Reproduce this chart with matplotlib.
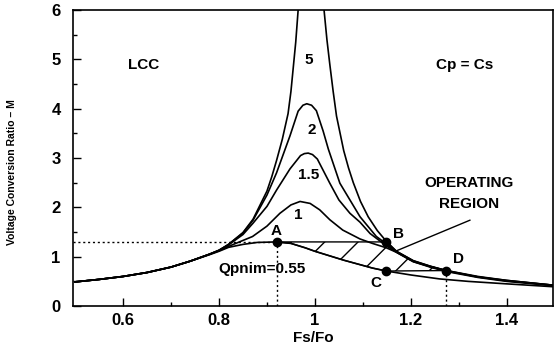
import numpy as np
import matplotlib
matplotlib.use("Agg")
import matplotlib.pyplot as plt

plt.rcParams['font.family'] = ['Liberation Sans', 'DejaVu Sans']
plt.rcParams['font.weight'] = 'bold'

# gain curves (Fs/Fo, M)
q055_x = [0.50, 0.55, 0.60, 0.65, 0.70, 0.74, 0.78, 0.80, 0.82, 0.85, 0.88, 0.92, 0.95, 0.98,
          1.00, 1.03, 1.06, 1.09, 1.12, 1.149, 1.20, 1.26, 1.32, 1.40, 1.50]
q055_m = [0.49, 0.54, 0.60, 0.68, 0.79, 0.91, 1.04, 1.11, 1.19, 1.25, 1.29, 1.30, 1.27, 1.18,
          1.11, 1.02, 0.93, 0.85, 0.77, 0.71, 0.63, 0.55, 0.50, 0.45, 0.39]

q1_x = [0.50, 0.55, 0.60, 0.65, 0.70, 0.74, 0.78, 0.80, 0.82, 0.84, 0.87, 0.90, 0.927, 0.95, 0.969,
        0.99, 1.01, 1.031, 1.058, 1.094, 1.12, 1.149, 1.17, 1.205, 1.24, 1.274, 1.34, 1.40, 1.50]
q1_m = [0.49, 0.54, 0.60, 0.68, 0.79, 0.91, 1.05, 1.12, 1.21, 1.29, 1.41, 1.62, 1.88, 2.05, 2.12,
        2.08, 1.95, 1.75, 1.54, 1.36, 1.27, 1.18, 1.09, 0.90, 0.79, 0.70, 0.58, 0.50, 0.41]

q15_x = [0.50, 0.55, 0.60, 0.65, 0.70, 0.74, 0.78, 0.80, 0.82, 0.85, 0.871, 0.90, 0.92, 0.948, 0.97,
         0.978, 0.986, 0.995, 1.005, 1.031, 1.05, 1.073, 1.094, 1.115, 1.149, 1.17, 1.205, 1.24,
         1.274, 1.34, 1.40, 1.50]
q15_m = [0.49, 0.54, 0.60, 0.68, 0.79, 0.91, 1.05, 1.13, 1.24, 1.45, 1.68, 2.02, 2.35, 2.78, 3.05,
         3.09, 3.10, 3.07, 2.98, 2.49, 2.15, 1.88, 1.70, 1.47, 1.22, 1.09, 0.90, 0.80,
         0.71, 0.59, 0.51, 0.42]

q2_x = [0.50, 0.55, 0.60, 0.65, 0.70, 0.74, 0.78, 0.80, 0.82, 0.85, 0.871, 0.90, 0.92, 0.948, 0.965,
        0.975, 0.983, 0.993, 1.003, 1.017, 1.028, 1.052, 1.094, 1.128, 1.149, 1.17, 1.205, 1.24,
        1.274, 1.34, 1.40, 1.50]
q2_m = [0.49, 0.54, 0.60, 0.68, 0.79, 0.91, 1.05, 1.13, 1.25, 1.48, 1.74, 2.25, 2.70, 3.45, 3.95,
        4.07, 4.10, 4.07, 3.96, 3.55, 3.18, 2.49, 1.81, 1.41, 1.26, 1.10, 0.91, 0.80,
        0.72, 0.59, 0.52, 0.42]

q5_x = [0.50, 0.55, 0.60, 0.65, 0.70, 0.74, 0.78, 0.80, 0.82, 0.85, 0.871, 0.90, 0.91, 0.92, 0.932,
        0.944, 0.95, 0.96, 0.965, 0.99, 1.019, 1.025, 1.031, 1.038, 1.045, 1.06, 1.07, 1.08, 1.095,
        1.111, 1.13, 1.149, 1.17, 1.205, 1.24, 1.274, 1.34, 1.40, 1.45, 1.50]
q5_m = [0.49, 0.54, 0.60, 0.68, 0.79, 0.91, 1.05, 1.13, 1.25, 1.49, 1.76, 2.33, 2.62, 2.95, 3.38,
        3.90, 4.35, 5.35, 6.00, 8.00, 6.00, 5.40, 4.90, 4.35, 3.85, 3.15, 2.80, 2.50, 2.12,
        1.81, 1.53, 1.31, 1.11, 0.92, 0.81, 0.72, 0.60, 0.52, 0.47, 0.42]

pt_names = ['A', 'B', 'C', 'D']
pt_x = [0.92, 1.149, 1.149, 1.274]
pt_m = [1.30, 1.30, 0.71, 0.72]

fig = plt.figure(figsize=(5.54, 3.51), dpi=100)
ax = fig.add_axes([0.132, 0.128, 0.866, 0.8435])

for xs, ms in [(q055_x, q055_m), (q1_x, q1_m), (q15_x, q15_m), (q2_x, q2_m), (q5_x, q5_m)]:
    ax.plot(xs, ms, color='black', lw=1.2)

# hatched operating region A-B-D-C
q5x, q5m = np.array(q5_x), np.array(q5_m)
qlx, qlm = np.array(q055_x), np.array(q055_m)
sel_r = (q5x > pt_x[1]) & (q5x <= pt_x[3])
sel_b = (qlx > pt_x[0]) & (qlx < pt_x[2])
poly_x = [pt_x[0], pt_x[1]] + list(q5x[sel_r]) + [pt_x[3], pt_x[2]] + list(qlx[sel_b][::-1])
poly_m = [pt_m[0], pt_m[1]] + list(q5m[sel_r]) + [pt_m[3], pt_m[2]] + list(qlm[sel_b][::-1])
ax.fill(poly_x, poly_m, facecolor='none', edgecolor='black', hatch='/', lw=1.0)

# dotted guides
ax.plot([0.496, pt_x[0]], [pt_m[0], pt_m[0]], color='black', lw=1, ls=(0, (1.5, 2)))
ax.plot([pt_x[0], pt_x[0]], [0, pt_m[0]], color='black', lw=1, ls=(0, (1.5, 2)))
ax.plot([pt_x[3], pt_x[3]], [0, pt_m[3]], color='black', lw=1, ls=(0, (1.5, 2)))

ax.plot(pt_x, pt_m, 'o', color='black', ms=6)

lbl_off = [(0.0, 0.22), (0.025, 0.17), (-0.021, -0.24), (0.026, 0.23)]
for n, x, m, (dx, dm) in zip(pt_names, pt_x, pt_m, lbl_off):
    ax.text(x + dx, m + dm, n, ha='center', va='center', fontsize=11, fontweight='bold')

# curve labels
ax.text(0.988, 4.99, '5', ha='center', va='center', fontsize=11, fontweight='bold')
ax.text(0.993, 3.57, '2', ha='center', va='center', fontsize=11, fontweight='bold')
ax.text(0.986, 2.66, '1.5', ha='center', va='center', fontsize=11, fontweight='bold')
ax.text(0.965, 1.85, '1', ha='center', va='center', fontsize=11, fontweight='bold')
ax.text(0.889, 0.75, 'Qpnim=0.55', ha='center', va='center', fontsize=11, fontweight='bold')

ax.text(0.642, 4.89, 'LCC', ha='center', va='center', fontsize=11, fontweight='bold')
ax.text(1.3125, 4.89, 'Cp = Cs', ha='center', va='center', fontsize=11, fontweight='bold')
ax.text(1.322, 2.50, 'OPERATING', ha='center', va='center', fontsize=11, fontweight='bold')
ax.text(1.322, 2.06, 'REGION', ha='center', va='center', fontsize=11, fontweight='bold')
ax.plot([1.323, 1.17], [1.74, 1.12], color='black', lw=1)

ax.set_xlim(0.496, 1.496)
ax.set_ylim(0, 6)
ax.set_xticks([0.6, 0.8, 1.0, 1.2, 1.4])
ax.set_xticklabels(['0.6', '0.8', '1', '1.2', '1.4'])
ax.set_xticks([0.7, 0.9, 1.1, 1.3], minor=True)
ax.set_yticks(range(7))
ax.set_yticks([0.5, 1.5, 2.5, 3.5, 4.5, 5.5], minor=True)
ax.tick_params(which='both', direction='in', labelsize=12, width=1)
ax.tick_params(which='major', length=6)
ax.tick_params(which='minor', length=3)
ax.tick_params(axis='y', pad=9)
ax.tick_params(axis='x', pad=5)
for s in ax.spines.values():
    s.set_linewidth(1.2)

ax.set_xlabel('Fs/Fo', fontsize=11, fontweight='bold', labelpad=2)
ax.set_ylabel('Voltage Conversion Ratio \u2013 M', fontsize=7.5, fontweight='bold')
ax.yaxis.set_label_coords(-0.117, 0.454)

fig.savefig('out.png', dpi=100)
